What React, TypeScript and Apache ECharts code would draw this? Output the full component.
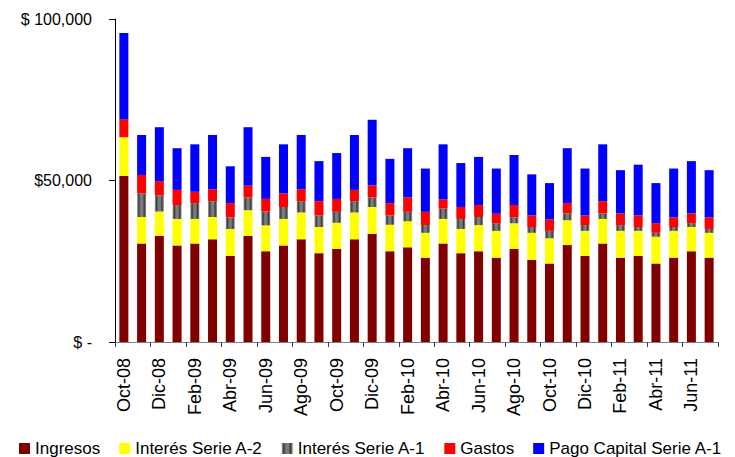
import React, { useEffect, useRef } from "react";
import * as echarts from "echarts";

const categories = [
  "Oct-08", "Nov-08", "Dic-08", "Ene-09", "Feb-09", "Mar-09", "Abr-09", "May-09", "Jun-09", "Jul-09",
  "Ago-09", "Sep-09", "Oct-09", "Nov-09", "Dic-09", "Ene-10", "Feb-10", "Mar-10", "Abr-10", "May-10",
  "Jun-10", "Jul-10", "Ago-10", "Sep-10", "Oct-10", "Nov-10", "Dic-10", "Ene-11", "Feb-11", "Mar-11",
  "Abr-11", "May-11", "Jun-11", "Jul-11",
];

const ingresos = [
  51400, 30500, 32900, 29900, 30500, 31800, 26700, 32900, 28100, 29900,
  31800, 27500, 28800, 31800, 33500, 28100, 29300, 26100, 30500, 27500,
  28100, 26100, 28800, 25400, 24300, 30000, 26700, 30500, 26100, 26700,
  24300, 26100, 28100, 26100,
];
const interesA2 = [
  12000, 8200, 7500, 8200, 7600, 6900, 8300, 7900, 8000, 8200,
  8300, 8100, 8100, 8300, 8300, 8200, 8100, 7700, 7600, 7500,
  8100, 8300, 8000, 8400, 7800, 7700, 7700, 7600, 8300, 7700,
  8300, 8300, 7500, 7700,
];
const interesA1 = [
  0, 7300, 5000, 4300, 4900, 4900, 3600, 4000, 4300, 3700,
  3500, 3600, 3400, 3500, 3000, 2900, 2900, 2400, 3200, 3100,
  2500, 2400, 1800, 1800, 2300, 2100, 1800, 1700, 1800, 1200,
  1200, 1200, 1200, 1200,
];
const gastos = [
  5600, 5700, 4400, 4700, 3500, 3700, 4400, 3600, 3900, 4200,
  3700, 4400, 4000, 3500, 3700, 3800, 4500, 4100, 2900, 3700,
  3700, 2900, 3800, 3600, 3600, 3200, 3000, 3800, 3600, 3600,
  3000, 3000, 3000, 3600,
];
const capital = [
  26700, 12400, 16700, 12900, 14700, 16800, 11400, 18100, 13000, 15200,
  16800, 12400, 14200, 17000, 20300, 13700, 15200, 13400, 17000, 13600,
  14900, 14000, 15500, 12700, 11200, 17000, 14500, 17600, 13400, 15700,
  12400, 15100, 16200, 14600,
];

const yTickValues = [0, 50000, 100000];
const yTickLabels = ["$ -", "$50,000", "$ 100,000"];

const seriesNames = [
  "Ingresos",
  "Interés Serie A-2",
  "Interés Serie A-1",
  "Gastos",
  "Pago Capital Serie A-1",
];

const greyGradient = new echarts.graphic.LinearGradient(0, 0, 1, 0, [
  { offset: 0, color: "#9a9a9a" },
  { offset: 0.2, color: "#3a3a3a" },
  { offset: 0.38, color: "#7a7a7a" },
  { offset: 0.62, color: "#7a7a7a" },
  { offset: 0.8, color: "#3a3a3a" },
  { offset: 1, color: "#9a9a9a" },
]);

export default function App() {
  const ref = useRef<HTMLDivElement>(null);

  useEffect(() => {
    if (!ref.current) return;
    const chart = echarts.init(ref.current, null, { renderer: "svg" });
    const dataSets = [ingresos, interesA2, interesA1, gastos, capital];
    const colors: any[] = ["#800000", "#FFFF00", greyGradient, "#FF0000", "#0000FF"];
    const font = "'Liberation Sans', Arial, sans-serif";

    chart.setOption({
      animation: false,
      backgroundColor: "#ffffff",
      grid: { left: 115, right: 17, top: 19, bottom: 115, containLabel: false },
      legend: {
        left: 19,
        top: 440,
        padding: 0,
        itemWidth: 11,
        itemHeight: 11,
        itemGap: 19,
        icon: "rect",
        textStyle: { fontFamily: font, fontSize: 17, lineHeight: 17, color: "#000" },
        data: seriesNames,
      },
      xAxis: {
        type: "category",
        data: categories,
        axisLine: { lineStyle: { color: "#808080", width: 1 } },
        axisTick: { show: true, interval: 1, length: 5, lineStyle: { color: "#404040" } },
        axisLabel: {
          interval: 1,
          rotate: 90,
          margin: 16,
          fontFamily: font,
          fontSize: 18,
          color: "#000",
        },
      },
      yAxis: {
        type: "value",
        min: 0,
        max: 100000,
        interval: 50000,
        axisLine: { show: true, lineStyle: { color: "#000", width: 1 } },
        axisTick: { show: true, length: 6, lineStyle: { color: "#000" } },
        splitLine: { show: false },
        axisLabel: {
          margin: 23,
          fontFamily: font,
          fontSize: 16,
          color: "#000",
          formatter: (v: number) => {
            const i = yTickValues.indexOf(v);
            return i >= 0 ? yTickLabels[i] : "";
          },
        },
      },
      series: seriesNames.map((name, i) => ({
        name,
        type: "bar",
        stack: "total",
        barWidth: 9,
        data: dataSets[i],
        itemStyle: { color: colors[i] },
      })),
    });

    return () => chart.dispose();
  }, []);

  return (
    <div
      ref={ref}
      style={{ position: "fixed", left: 0, top: 0, width: 735, height: 457, background: "#fff" }}
    />
  );
}
